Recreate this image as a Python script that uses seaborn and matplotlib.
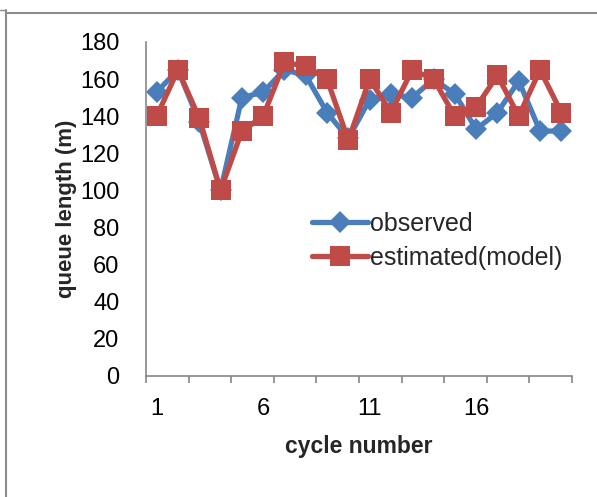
import matplotlib
matplotlib.use("Agg")
import matplotlib.pyplot as plt
from matplotlib.lines import Line2D
import seaborn as sns
import pandas as pd
import numpy as np

cycles = list(range(1, 21))
observed = [153, 165, 137, 100, 150, 153, 165, 162, 142, 128,
            149, 152, 150, 160, 152, 133, 142, 159, 132, 132]
estimated = [140, 165, 139, 100, 132, 140, 169, 167, 160, 127,
             160, 142, 165, 160, 140, 145, 162, 140, 165, 142]
series_names = ["observed", "estimated(model)"]
x_tick_labels = ["1", "6", "11", "16"]
y_ticks = [0, 20, 40, 60, 80, 100, 120, 140, 160, 180]

sns.set_theme(style="white")
plt.rcParams['font.family'] = ['Liberation Sans', 'DejaVu Sans']

df = pd.DataFrame({
    "cycle": cycles * 2,
    "queue": observed + estimated,
    "series": [series_names[0]] * len(cycles) + [series_names[1]] * len(cycles),
})

fig = plt.figure(figsize=(5.97, 4.97), dpi=100)
ax = fig.add_axes([146 / 597, 1 - 376 / 497, (572 - 146) / 597, (376 - 42) / 497])

palette = {series_names[0]: "#4A7EBB", series_names[1]: "#BE4B48"}
markers = {series_names[0]: "D", series_names[1]: "s"}
sns.lineplot(data=df, x="cycle", y="queue", hue="series", style="series",
             palette=palette, markers=markers, dashes=False, ax=ax,
             linewidth=3.8, markersize=12, markeredgewidth=0, legend=False)
for line in ax.lines:
    if line.get_marker() == "D":
        line.set_markersize(11)
    elif line.get_marker() == "s":
        line.set_markersize(14)

ax.set_xlim(0.5, 20.5)
ax.set_ylim(0, 180)
ax.set_yticks(y_ticks)
ax.set_xticks([1, 6, 11, 16])
ax.set_xticklabels(x_tick_labels)
ax.set_xticks(np.arange(0.5, 21, 2), minor=True)
ax.tick_params(axis="x", which="major", length=0, pad=16, labelsize=17, colors="black")
ax.tick_params(axis="x", which="minor", length=5, width=1.2, color="#868686", bottom=True)
ax.tick_params(axis="y", which="major", length=0, pad=19, labelsize=17, colors="black")

for side in ["top", "right"]:
    ax.spines[side].set_visible(False)
for side in ["left", "bottom"]:
    ax.spines[side].set_color("#868686")
    ax.spines[side].set_linewidth(1.2)

ax.set_xlabel("cycle number", fontsize=16.5, fontweight="bold", labelpad=11)
ax.set_ylabel("queue length (m)", fontsize=16, fontweight="bold", labelpad=2)

handles = [
    Line2D([], [], color=palette[series_names[0]], marker="D", markersize=11,
           linewidth=3.8, markeredgewidth=0),
    Line2D([], [], color=palette[series_names[1]], marker="s", markersize=14,
           linewidth=3.8, markeredgewidth=0),
]
ax.legend(handles, series_names, loc="upper left",
          bbox_to_anchor=(312 / 597, 1 - 212 / 497), bbox_transform=fig.transFigure,
          frameon=False, fontsize=18, handlelength=2.25, handletextpad=0.08,
          labelspacing=0.4, borderaxespad=0, borderpad=0)

# outer chart frame (partially visible)
fig.add_artist(Line2D([6 / 597, 6 / 597], [0, 1 - 10 / 497], color="#8c8c8c", lw=1.5))
fig.add_artist(Line2D([6 / 597, 1], [1 - 13 / 497, 1 - 13 / 497], color="#8c8c8c", lw=1.5))
fig.add_artist(Line2D([0, 6 / 597], [1 - 10 / 497, 1 - 10 / 497], color="#8c8c8c", lw=1.0))

fig.savefig("out.png", dpi=100)
